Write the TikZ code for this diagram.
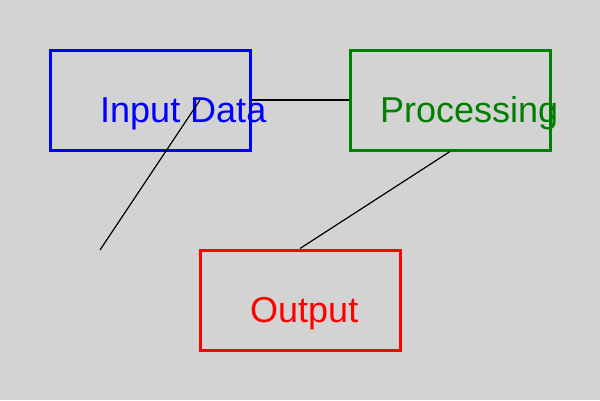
\documentclass[tikz,border=0pt]{standalone}
\usepackage{fontspec}
\setmainfont{Liberation Sans}
\begin{document}
\begin{tikzpicture}[x=1pt,y=-1pt,
  box/.style={draw,line width=3pt,minimum width=200pt,minimum height=100pt,inner sep=0pt,fill=none},
  lbl/.style={anchor=base west,inner sep=0pt,font=\fontsize{36}{40}\selectfont},
  conn/.style={draw=black,line width=1.2pt}]
\fill[fill={rgb,255:red,211;green,211;blue,211}] (0,0) rectangle (600,400);
\useasboundingbox (0,0) rectangle (600,400);
\definecolor{grn}{rgb}{0,0.5,0}
\node[box,draw=blue] (inbox) at (150,100) {};
\node[box,draw=grn] (procbox) at (450,100) {};
\node[box,draw=red] (outbox) at (300,300) {};
\node[lbl,text=blue] (intext) at (100,122) {Input Data};
\node[lbl,text=grn] (proctext) at (380,122) {Processing};
\node[lbl,text=red] (outtext) at (250,322) {Output};
\coordinate (inmid) at (200,100);
\coordinate (free) at (100,250);
\draw[conn] (inbox.east) -- (procbox.west);
\draw[conn] (procbox.south) -- (outbox.north);
\draw[conn] (inmid) -- (free);
\end{tikzpicture}
\end{document}
